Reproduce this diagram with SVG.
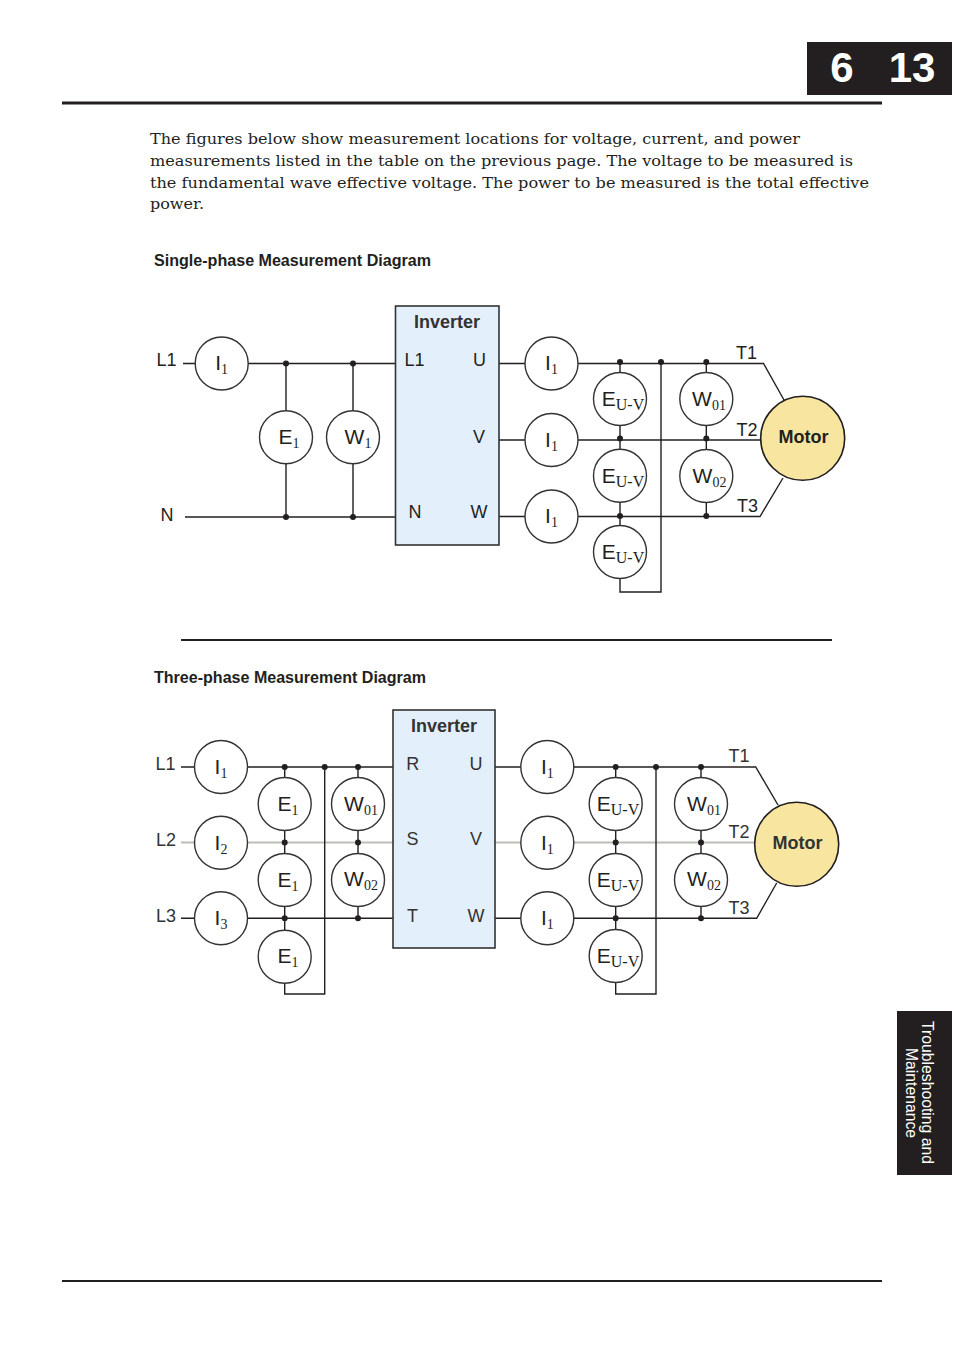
<svg xmlns="http://www.w3.org/2000/svg" width="954" height="1357" viewBox="0 0 954 1357">
<style>
text{font-family:"Liberation Sans",Arial,sans-serif;fill:#231f20}
.body{font-family:"DejaVu Serif","Liberation Serif",serif;font-size:15px}
.title{font-size:16px;font-weight:bold}
.lbl{font-size:18px;text-anchor:middle}
.lbl2{font-size:18px;text-anchor:middle;fill:#333}
.head{font-size:18px;text-anchor:middle;font-weight:bold;fill:#333}
.sym{font-size:21px;text-anchor:middle}
.sub{font-family:"Liberation Serif",serif;font-size:14px}
.subw{font-family:"Liberation Serif",serif;font-size:16px}
.wire{fill:none;stroke:#231f20;stroke-width:1.4}
.grey{fill:none;stroke:#bdbdb8;stroke-width:2}
.m{fill:#fff;stroke:#333;stroke-width:1.4}
.motor{fill:#f8e6a0;stroke:#231f20;stroke-width:1.6}
.inv{fill:#e3f0fb;stroke:#333;stroke-width:1.6}
.dot{fill:#231f20}
.rule{stroke:#231f20;fill:none}
</style>
<defs><circle id="d" r="3" class="dot"/></defs>

<rect x="807" y="42" width="145" height="53" fill="#231f20"/>
<text x="842" y="82" font-size="42" font-weight="bold" text-anchor="middle" style="fill:#fff">6</text>
<text x="912" y="82" font-size="42" font-weight="bold" text-anchor="middle" style="fill:#fff">13</text>
<path class="rule" stroke-width="3" d="M62 103H882"/>
<text class="body" x="150" y="144" textLength="650" lengthAdjust="spacingAndGlyphs">The figures below show measurement locations for voltage, current, and power</text>
<text class="body" x="150" y="166" textLength="703" lengthAdjust="spacingAndGlyphs">measurements listed in the table on the previous page. The voltage to be measured is</text>
<text class="body" x="150" y="188" textLength="719" lengthAdjust="spacingAndGlyphs">the fundamental wave effective voltage. The power to be measured is the total effective</text>
<text class="body" x="150" y="209" textLength="54" lengthAdjust="spacingAndGlyphs">power.</text>
<text class="title" x="154" y="266" textLength="277" lengthAdjust="spacingAndGlyphs">Single-phase Measurement Diagram</text>
<path class="rule" stroke-width="2" d="M181 640H832"/>
<text class="title" x="154" y="683" textLength="272" lengthAdjust="spacingAndGlyphs">Three-phase Measurement Diagram</text>
<path class="rule" stroke-width="2" d="M62 1281H882"/>
<rect x="897" y="1011" width="55" height="164" fill="#231f20"/>
<text transform="translate(922 1021) rotate(90)" font-size="16" textLength="143" lengthAdjust="spacingAndGlyphs" style="fill:#fff">Troubleshooting and</text>
<text transform="translate(906 1048) rotate(90)" font-size="16" textLength="90" lengthAdjust="spacingAndGlyphs" style="fill:#fff">Maintenance</text>

<g id="connectors">
<path class="wire" d="M183 363.5H395M185 517H395M286 363.5V517M353 363.5V517"/>
<path class="wire" d="M499 363.5H763.5L784 400M499 440H761M499 516.5H760L783 478M620 362.500V592H661V362.500M706.300 362.500V516.500"/>
<use href="#d" x="286" y="363.500"/><use href="#d" x="353" y="363.500"/><use href="#d" x="286" y="517"/><use href="#d" x="353" y="517"/>
<use href="#d" x="620" y="362"/><use href="#d" x="661" y="362"/><use href="#d" x="706.300" y="362"/>
<use href="#d" x="620" y="438.500"/><use href="#d" x="706.300" y="438.500"/><use href="#d" x="620" y="516"/><use href="#d" x="706.300" y="516"/>

<path class="grey" d="M181 842.500H393M495 842.500H755"/>
<path class="wire" d="M181 767H393M181 918.300H393M284.700 767V994H324.700V767M358 767V918.300"/>
<path class="wire" d="M495 767H755.700L778 805M495 918.300H756.700L776.700 883M615.700 767V994H656V767M701 767V918.300"/>
<use href="#d" x="284.700" y="767"/><use href="#d" x="324.700" y="767"/><use href="#d" x="358" y="767"/>
<use href="#d" x="284.700" y="842.500"/><use href="#d" x="358" y="842.500"/><use href="#d" x="284.700" y="918.300"/><use href="#d" x="358" y="918.300"/>
<use href="#d" x="615.700" y="767"/><use href="#d" x="656" y="767"/><use href="#d" x="701" y="767"/>
<use href="#d" x="615.700" y="842.500"/><use href="#d" x="701" y="842.500"/><use href="#d" x="615.700" y="918.300"/><use href="#d" x="701" y="918.300"/>
</g>

<g id="a-labels">
<text class="lbl" x="166.500" y="366">L1</text><text class="lbl" x="167" y="521">N</text>
<text class="lbl" x="746.500" y="359">T1</text><text class="lbl" x="747" y="436">T2</text><text class="lbl" x="747.500" y="512">T3</text>
</g>
<g id="a-inverter">
<rect class="inv" x="395.500" y="306" width="103.500" height="239"/>
<text class="head" x="447" y="328" font-weight="bold">Inverter</text>
<text class="lbl" x="414.500" y="366">L1</text><text class="lbl" x="479.500" y="366">U</text><text class="lbl" x="479" y="443">V</text><text class="lbl" x="415" y="518">N</text><text class="lbl" x="479" y="518">W</text>
</g>
<g id="a-i1"><circle class="m" cx="221.700" cy="363.500" r="26.500"/><text class="sym" x="221.700" y="370">I<tspan class="sub" dy="4">1</tspan></text></g>
<g id="a-e1"><circle class="m" cx="286" cy="437.300" r="26.500"/><text class="sym" x="289" y="444">E<tspan class="sub" dy="4">1</tspan></text></g>
<g id="a-w1"><circle class="m" cx="353" cy="437.300" r="26.500"/><text class="sym" x="358" y="444">W<tspan class="sub" dy="4">1</tspan></text></g>
<g id="a-iu"><circle class="m" cx="551.500" cy="363.500" r="26.500"/><text class="sym" x="551.500" y="370">I<tspan class="sub" dy="4">1</tspan></text></g>
<g id="a-iv"><circle class="m" cx="551.500" cy="440" r="26.500"/><text class="sym" x="551.500" y="447">I<tspan class="sub" dy="4">1</tspan></text></g>
<g id="a-iw"><circle class="m" cx="551.500" cy="516.500" r="26.500"/><text class="sym" x="551.500" y="523">I<tspan class="sub" dy="4">1</tspan></text></g>
<g id="a-e2"><circle class="m" cx="620" cy="399" r="26.500"/><text class="sym" x="623" y="406">E<tspan class="subw" dy="3.500">U-V</tspan></text></g>
<g id="a-e3"><circle class="m" cx="620" cy="475.700" r="26.500"/><text class="sym" x="623" y="483">E<tspan class="subw" dy="3.500">U-V</tspan></text></g>
<g id="a-e4"><circle class="m" cx="620" cy="552" r="26.500"/><text class="sym" x="623" y="559">E<tspan class="subw" dy="3.500">U-V</tspan></text></g>
<g id="a-w01"><circle class="m" cx="706.300" cy="399" r="26.500"/><text class="sym" x="709" y="406">W<tspan class="sub" dy="4">01</tspan></text></g>
<g id="a-w02"><circle class="m" cx="706.300" cy="476" r="26.500"/><text class="sym" x="709.500" y="483">W<tspan class="sub" dy="4">02</tspan></text></g>
<g id="a-motor"><circle class="motor" cx="802.700" cy="438.300" r="42"/><text class="head" x="803.500" y="443.300" style="fill:#231f20">Motor</text></g>

<g id="b-labels">
<text class="lbl2" x="165.500" y="770">L1</text><text class="lbl2" x="166" y="845.500">L2</text><text class="lbl2" x="166" y="921.500">L3</text>
<text class="lbl2" x="739" y="762">T1</text><text class="lbl2" x="739" y="838">T2</text><text class="lbl2" x="739" y="914">T3</text>
</g>
<g id="b-inverter">
<rect class="inv" x="393" y="710" width="102" height="238"/>
<text class="head" x="444" y="731.700">Inverter</text>
<text class="lbl2" x="412.700" y="770">R</text><text class="lbl2" x="412.500" y="845">S</text><text class="lbl2" x="412.500" y="921.500">T</text>
<text class="lbl2" x="476" y="770">U</text><text class="lbl2" x="476" y="845">V</text><text class="lbl2" x="476" y="921.500">W</text>
</g>
<g id="b-i1"><circle class="m" cx="221" cy="767" r="26.500"/><text class="sym" x="221" y="774">I<tspan class="sub" dy="4">1</tspan></text></g>
<g id="b-i2"><circle class="m" cx="221" cy="842.700" r="26.500"/><text class="sym" x="221" y="850">I<tspan class="sub" dy="4">2</tspan></text></g>
<g id="b-i3"><circle class="m" cx="221" cy="918.300" r="26.500"/><text class="sym" x="221" y="925">I<tspan class="sub" dy="4">3</tspan></text></g>
<g id="b-e1"><circle class="m" cx="284.700" cy="804" r="26.500"/><text class="sym" x="288" y="811">E<tspan class="sub" dy="4">1</tspan></text></g>
<g id="b-e2"><circle class="m" cx="284.700" cy="880" r="26.500"/><text class="sym" x="288" y="887">E<tspan class="sub" dy="4">1</tspan></text></g>
<g id="b-e3"><circle class="m" cx="284.700" cy="956.700" r="26.500"/><text class="sym" x="288" y="963">E<tspan class="sub" dy="4">1</tspan></text></g>
<g id="b-w01"><circle class="m" cx="358" cy="804" r="26.500"/><text class="sym" x="361" y="811">W<tspan class="sub" dy="4">01</tspan></text></g>
<g id="b-w02"><circle class="m" cx="358" cy="880" r="26.500"/><text class="sym" x="361" y="886">W<tspan class="sub" dy="4">02</tspan></text></g>
<g id="b-iu"><circle class="m" cx="547.300" cy="767" r="26.500"/><text class="sym" x="547.300" y="774">I<tspan class="sub" dy="4">1</tspan></text></g>
<g id="b-iv"><circle class="m" cx="547.300" cy="842.700" r="26.500"/><text class="sym" x="547.300" y="850">I<tspan class="sub" dy="4">1</tspan></text></g>
<g id="b-iw"><circle class="m" cx="547.300" cy="918.300" r="26.500"/><text class="sym" x="547.300" y="925">I<tspan class="sub" dy="4">1</tspan></text></g>
<g id="b-e4"><circle class="m" cx="615.700" cy="804" r="26.500"/><text class="sym" x="618" y="811">E<tspan class="subw" dy="3.500">U-V</tspan></text></g>
<g id="b-e5"><circle class="m" cx="615.700" cy="880" r="26.500"/><text class="sym" x="618" y="887">E<tspan class="subw" dy="3.500">U-V</tspan></text></g>
<g id="b-e6"><circle class="m" cx="615.700" cy="956" r="26.500"/><text class="sym" x="618" y="963">E<tspan class="subw" dy="3.500">U-V</tspan></text></g>
<g id="b-w03"><circle class="m" cx="701" cy="804" r="26.500"/><text class="sym" x="704" y="811">W<tspan class="sub" dy="4">01</tspan></text></g>
<g id="b-w04"><circle class="m" cx="701" cy="880" r="26.500"/><text class="sym" x="704" y="886">W<tspan class="sub" dy="4">02</tspan></text></g>
<g id="b-motor"><circle class="motor" cx="796.700" cy="844.300" r="42"/><text class="head" x="797.500" y="849.300">Motor</text></g>
</svg>
